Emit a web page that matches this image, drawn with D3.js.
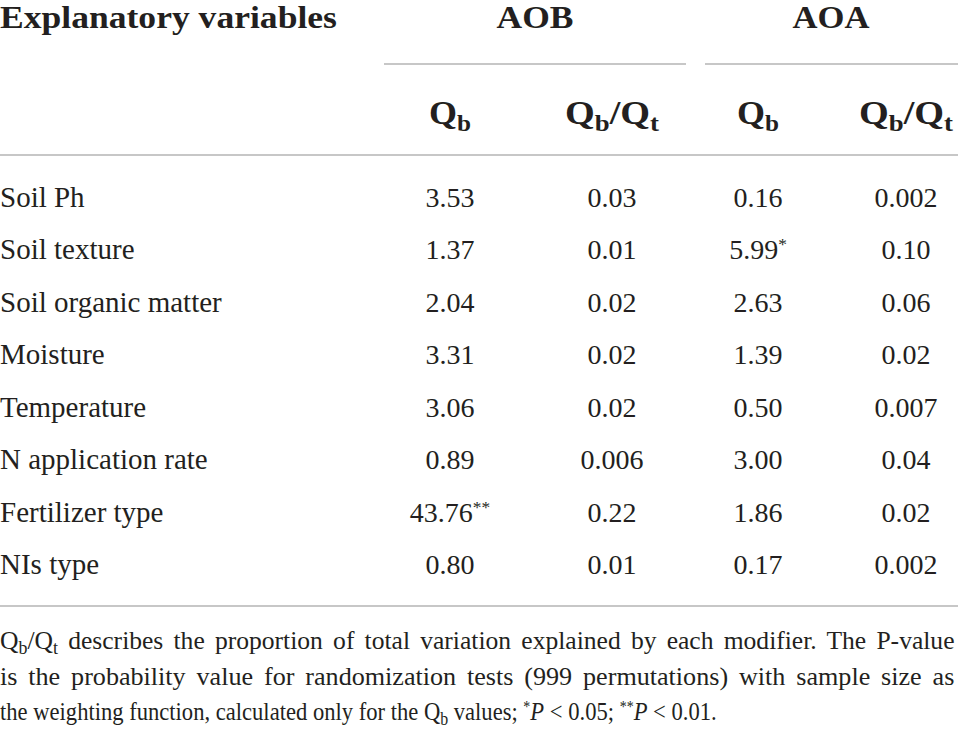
<!DOCTYPE html>
<html>
<head>
<meta charset="utf-8">
<script src="https://cdn.jsdelivr.net/npm/d3@7"></script>
<style>
  html, body { margin: 0; padding: 0; background: #fff; }
  svg { display: block; font-family: "Liberation Serif", "DejaVu Serif", serif; }
</style>
</head>
<body>
<script>
// ---------- DATA ----------
const variables = ["Soil Ph", "Soil texture", "Soil organic matter", "Moisture",
                   "Temperature", "N application rate", "Fertilizer type", "NIs type"];
const aobQb    = [3.53, 1.37, 2.04, 3.31, 3.06, 0.89, 43.76, 0.80];
const aobRatio = [0.03, 0.01, 0.02, 0.02, 0.02, 0.006, 0.22, 0.01];
const aoaQb    = [0.16, 5.99, 2.63, 1.39, 0.50, 3.00, 1.86, 0.17];
const aoaRatio = [0.002, 0.10, 0.06, 0.02, 0.007, 0.04, 0.02, 0.002];
const aobSig   = ["", "", "", "", "", "", "**", ""];
const aoaSig   = ["", "*", "", "", "", "", "", ""];
const groups   = ["AOB", "AOA"];
const columnKeys = ["aobQb", "aobRatio", "aoaQb", "aoaRatio"];

// ---------- SETUP ----------
const W = 958, H = 730, INK = "#231f20", RULE = "#b5b5b5";
const svg = d3.select("body").append("svg").attr("width", W).attr("height", H);

const yRow = d3.scalePoint().domain(variables).range([207, 574]);
const xCol = d3.scaleOrdinal().domain(columnKeys).range([450, 612, 758, 906]);
const xGroup = d3.scaleOrdinal().domain(groups).range([535, 831]);
const fmt = v => d3.format(v < 0.01 ? ".3f" : ".2f")(v);

// rich text helper: parts = [{t, sub, sup, it}]
function rich(parent, x, y, parts, o) {
  const size = o.size;
  const t = parent.append("text")
    .attr("font-size", size)
    .attr("font-weight", o.weight || "normal")
    .attr("text-anchor", o.anchor || "start")
    .attr("fill", INK);
  let shift = 0;
  parts.forEach(p => {
    const ts = t.append("tspan").text(p.t);
    const target = p.sub ? size * 0.2 : p.sup ? -size * 0.32 : 0;
    ts.attr("dy", target - shift);
    shift = target;
    if (p.sub || p.sup) ts.attr("font-size", size * (p.sup ? 0.62 : 0.7));
    if (p.it) ts.attr("font-style", "italic");
  });
  let sx = 1;
  if (o.width) {
    const w = t.node().getComputedTextLength();
    const own = o.width / w;
    if (o.baseScale) {
      // mix glyph scaling with word spacing (justified line)
      sx = 0.7 * own + 0.3 * o.baseScale;
      const nSpaces = parts.map(p => p.t).join("").split(" ").length - 1;
      const gap = o.width / sx - w;
      if (nSpaces > 0 && gap > 0) t.attr("word-spacing", gap / nSpaces);
    } else if (w > 0) {
      sx = own;
    }
  }
  t.attr("transform", `translate(${x},${y}) scale(${sx},1)`);
  return t;
}

// ---------- RULES ----------
const rules = svg.append("g").attr("stroke", RULE).attr("stroke-width", 1.5);
rules.append("line").attr("x1", 384).attr("x2", 686).attr("y1", 64).attr("y2", 64);
rules.append("line").attr("x1", 705).attr("x2", 958).attr("y1", 64).attr("y2", 64);
rules.append("line").attr("x1", 0).attr("x2", W).attr("y1", 155).attr("y2", 155);
rules.append("line").attr("x1", 0).attr("x2", W).attr("y1", 606).attr("y2", 606);

// ---------- HEADER ----------
rich(svg, 0, 28, [{t: "Explanatory variables"}], {size: 31, weight: "bold", width: 337});
groups.forEach(g => rich(svg, xGroup(g), 28, [{t: g}], {size: 31, weight: "bold", anchor: "middle", width: 77}));

const qb = [{t: "Q"}, {t: "b", sub: true}];
const qbqt = [{t: "Q"}, {t: "b", sub: true}, {t: "/"}, {t: "Q"}, {t: "t", sub: true}];
columnKeys.forEach(k => {
  const isRatio = k.endsWith("Ratio");
  rich(svg, xCol(k), 124, isRatio ? qbqt : qb,
       {size: 33, weight: "bold", anchor: "middle", width: isRatio ? 94 : 42});
});

// ---------- BODY ----------
const body = svg.append("g");
variables.forEach(v => rich(body, 0, yRow(v), [{t: v}], {size: 29}));

const columns = [
  {key: "aobQb", values: aobQb, sig: aobSig},
  {key: "aobRatio", values: aobRatio, sig: null},
  {key: "aoaQb", values: aoaQb, sig: aoaSig},
  {key: "aoaRatio", values: aoaRatio, sig: null}
];
columns.forEach(c => {
  c.values.forEach((val, i) => {
    const parts = [{t: fmt(val)}];
    if (c.sig && c.sig[i]) parts.push({t: c.sig[i], sup: true});
    rich(body, xCol(c.key), yRow(variables[i]), parts, {size: 28, anchor: "middle"});
  });
});

// ---------- FOOTNOTE ----------
const note1 = [{t: "Q"}, {t: "b", sub: true}, {t: "/Q"}, {t: "t", sub: true},
  {t: " describes the proportion of total variation explained by each modifier. The P-value"}];
const note2 = [{t: "is the probability value for randomization tests (999 permutations) with sample size as"}];
const note3 = [{t: "the weighting function, calculated only for the Q"}, {t: "b", sub: true},
  {t: " values; "}, {t: "*", sup: true}, {t: "P", it: true}, {t: " < 0.05; "},
  {t: "**", sup: true}, {t: "P", it: true}, {t: " < 0.01."}];
const last = rich(svg, 0, 720, note3, {size: 26, width: 717});
const noteScale = 717 / last.node().getComputedTextLength();
rich(svg, 0, 649, note1, {size: 26, baseScale: noteScale, width: 955});
rich(svg, 0, 685, note2, {size: 26, baseScale: noteScale, width: 955});
</script>
</body>
</html>
